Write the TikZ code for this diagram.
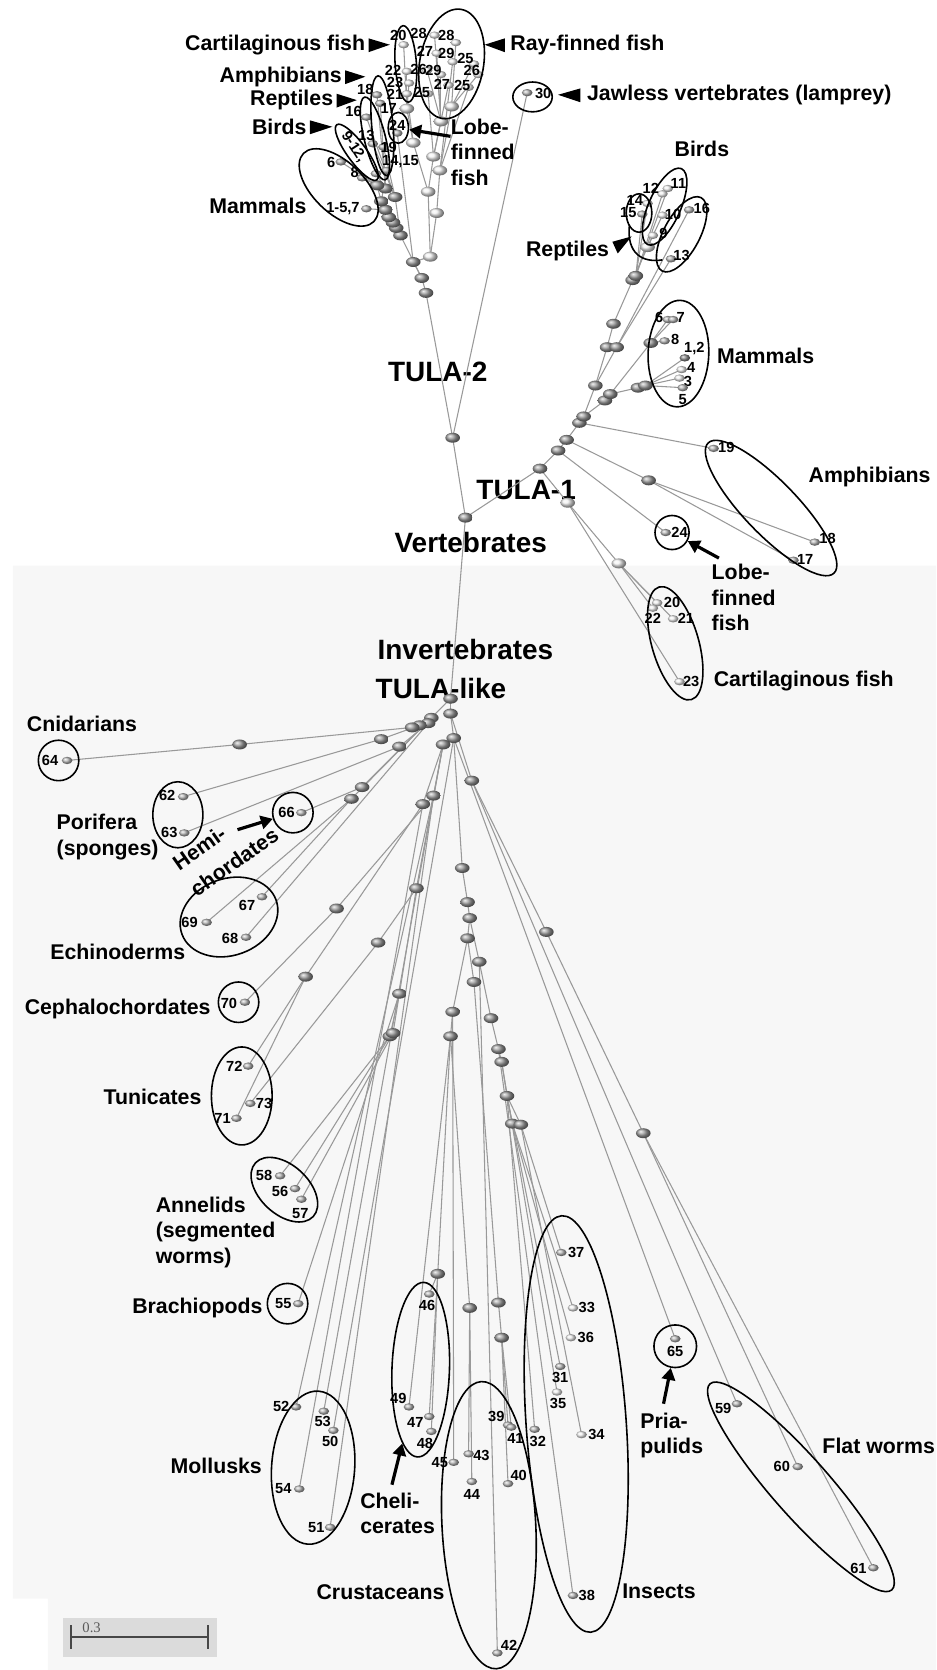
\documentclass[tikz,border=0pt]{standalone}
\usepackage{fontspec}
\setmainfont{Liberation Sans}
\newfontfamily\barfont{Liberation Serif}
\usetikzlibrary{shapes.geometric,arrows.meta}
\pgfdeclarelayer{bg}
\pgfdeclarelayer{edges}
\pgfsetlayers{bg,edges,main}

\tikzset{
  inode/.style={ellipse, inner sep=0pt, minimum width=11pt, minimum height=7.5pt, shade, ball color=gray!75},
  wnode/.style={inode, ball color=gray!12},
  lnode/.style={ellipse, inner sep=0pt, minimum width=8pt, minimum height=5.5pt, shade, ball color=gray!55},
  wleaf/.style={lnode, ball color=gray!12},
  dleaf/.style={lnode, ball color=gray!90},
  edge/.style={draw=black!40, line width=0.8pt},
  ring/.style={ellipse, draw, line width=1.2pt, inner sep=0pt},
  num/.style={font=\fontsize{11}{12}\selectfont\bfseries, inner sep=0pt},
  grp/.style={font=\fontsize{16}{19}\selectfont\bfseries, inner sep=0pt, align=left},
  big/.style={font=\fontsize{21}{24}\selectfont\bfseries, inner sep=0pt},
  ptr/.style={line width=2.4pt, -{Triangle[length=9pt,width=10pt]}},
}

\begin{document}
\begin{tikzpicture}[x=0.8pt, y=-0.8pt]
\useasboundingbox (0,0) rectangle (879,1568);

% shaded half and the big titles
\begin{pgfonlayer}{bg}
  \fill[black!3] (12,531) -- (879,531) -- (879,1568) -- (45,1568) -- (45,1501) -- (12,1501) -- cycle;
  \node[big] (lT2) at (411,349) {TULA-2};
  \node[big] (lT1) at (494,460) {TULA-1};
  \node[big] (lVert) at (442,509) {Vertebrates};
  \node[big] (lInv) at (437,610) {Invertebrates};
  \node[big] (lTlike) at (414,646) {TULA-like};
\end{pgfonlayer}

% inner nodes
\foreach \n/\x/\y in {k0/425/411, k1/400/275, k2/396/261, k3/388/246, k4/376/221, k5/372/214,
  k6/369/209, k7/365/204, k8/362/197, k9/358/189, k10/371/185, k11/362/177, k12/354/174,
  vA/437/486, q1/507/440, q2/524/423, q3/532/413, q4/544/397, p10/548/391, p5/559/362,
  p7/568/376, p6/573/370, p2/570/326, p3/579/326, p1/576/304, p11/594/263, p11b/597/259,
  p8/599/364, p9/606/362, p4/611/322, r1/609/451,
  h0/423/656, h1/423/670, a1/405/674, a2/402/679, a3/394/681, a4/387/683, b1/358/694,
  b2/375/701, c1/426/693, c2/416/699, d1/443/733, e1/340/739, e2/330/750, f1/407/747,
  f2/397/755, m64/225/699, n70/316/853, t1/287/917, t2/355/885, u1/391/834, an3/375/933,
  an1/366/973, an2/369/970, g1/434/815, g2/439/847, g3/441/862, g4/439/881, g5/450/903,
  g6/445/922, g7/461/956, g8/468/985, g9/471/997, g10/476/1029, g11/481/1055, g12/489/1056,
  g13/425/950, g14/423/973, ch1/411/1196, cr1/441/1228, cr2/468/1223, cr3/471/1256,
  fw1/513/875, fw2/604/1064}
  \node[inode] (\n) at (\x,\y) {};
\foreach \n/\x/\y in {w1/404/241, w2/410/200, w3/402/180, w4/413/160, w5/407/147, w6/388/134,
  w7/382/102, w8/424/100, w9/414/114, w10/533/472, w11/581/529, p12/608/232}
  \node[wnode] (\n) at (\x,\y) {};

% leaves of TULA-2
\foreach \n/\x/\y in {f20/379/42, f22/382/67, f23/384/78, f21/382/88, ra/408/33, rb/428/40,
  rc/410/50, rd/425/58, re/445/60, rf/401/66, rg/414/70, rh/449/70, ri/421/80, rj/440/82, rk/402/88}
  \node[wleaf] (\n) at (\x,\y) {};
\foreach \n/\x/\y in {f18/354/89, f17/357/97, f16/344/110, f13/350/135, f24/373/125, f19/360/138,
  fB/353/163, fB2/363/160, f6/320/152, f8/340/167, f157/344/196, f30/495/87}
  \node[lnode] (\n) at (\x,\y) {};
\foreach \t/\u/\v [count=\i] in {20/374/33, 28/393/31, 28/419/33, 27/399/48, 29/419/50, 25/437/55,
  22/369/66, 26/393/65, 29/407/66, 26/443/66, 23/371/77, 27/415/79, 25/434/80, 21/371/89,
  25/396/87, 18/343/84, 17/365/102, 16/332/105, 24/373/118, 13/344/127, 19/365/138,
  6/311/153, 8/333/162, 30/510/88}
  \node[num] (top\i) at (\u,\v) {\t};
\node[num] (top25) at (322,196) {1-5,7};
\node[num] (top26) at (376,152) {14,15};
\node[num, rotate=-57] (top27) at (332,138) {9-12,};

% leaves of TULA-1
\foreach \n/\x/\y/\t/\u/\v in {b11/627/177/11/637/172, b12/622/182/12/611/177, b14/608/191/14/596/188,
  b10/622/202/10/632/201, b9/613/221/9/623/219, m4/640/347/4/649/345, m3/638/355/3/646/358,
  c20/617/566/20/631/566, c22/613/571/22/613/581, c21/632/581/21/644/581, c23/638/640/23/649/640}
  {\node[wleaf] (\n) at (\x,\y) {}; \node[num] (n\n) at (\u,\v) {\t};}
\foreach \n/\x/\y/\t/\u/\v in {b15/603/201/15/590/200, b16/647/197/16/659/196, b13/630/243/13/640/240,
  m6/627/300/6/619/298, m7/632/300/7/639/298, m8/624/320/8/634/319, m5/641/364/5/641/375,
  a19/670/421/19/682/420, a18/765/509/18/777/506, a17/745/526/17/756/525, a24/625/500/24/638/500}
  {\node[lnode] (\n) at (\x,\y) {}; \node[num] (n\n) at (\u,\v) {\t};}
\node[dleaf] (m12) at (643,336) {};
\node[num] (nm12) at (652,327) {1,2};

% leaves of the invertebrates
\foreach \n/\x/\y/\t/\u/\v in {s64/63/714/64/47/714, s62/172/748/62/157/747, s63/173/782/63/159/782,
  s66/283/763/66/269/763, s67/246/842/67/232/850, s68/231/880/68/216/881, s69/194/866/69/178/866,
  s70/230/941/70/215/942, s72/233/1001/72/220/1001, s73/235/1036/73/248/1036, s71/222/1050/71/209/1050,
  s58/263/1104/58/248/1104, s56/277/1116/56/263/1119, s57/283/1126/57/282/1139, s55/280/1224/55/266/1224,
  s52/278/1321/52/264/1321, s53/304/1325/53/303/1335, s50/313/1343/50/310/1353, s54/281/1398/54/266/1398,
  s51/310/1434/51/297/1434, s46/403/1215/46/401/1226, s49/384/1321/49/374/1313, s47/403/1330/47/390/1336,
  s48/405/1344/48/399/1355, s45/426/1373/45/413/1373, s43/440/1365/43/452/1367, s44/443/1391/44/443/1403,
  s39/477/1338/39/466/1330, s41/480/1340/41/484/1351, s40/477/1393/40/487/1385, s42/467/1552/42/478/1545,
  s32/502/1342/32/505/1353, s37/527/1176/37/541/1176, s31/526/1283/31/526/1293, s38/538/1498/38/551/1498,
  s65/634/1257/65/634/1269, s59/692/1318/59/679/1322, s60/749/1377/60/734/1377, s61/820/1472/61/806/1473}
  {\node[lnode] (\n) at (\x,\y) {}; \node[num] (n\n) at (\u,\v) {\t};}
\foreach \n/\x/\y/\t/\u/\v in {s33/538/1228/33/551/1228, s36/536/1256/36/550/1256,
  s35/523/1307/35/524/1318, s34/546/1347/34/560/1347}
  {\node[wleaf] (\n) at (\x,\y) {}; \node[num] (n\n) at (\u,\v) {\t};}

% branches
\begin{pgfonlayer}{edges}
\foreach \a/\b in {k0/k1, k1/k2, k2/k3, k0/f30, k3/w1, w1/w2, w2/w4, w4/w8, w8/rb, w8/re, w8/rh,
  w4/rj, w4/rd, w1/w3, w3/w5, w5/w9, w9/ra, w9/rc, w9/rg, w5/ri, w9/rf, w5/rk, w3/w6, w6/w7,
  w7/f20, w7/f22, w7/f23, w6/f21, k3/f24, k2/k4, k4/k5, k5/k6, k6/k7, k7/k8, k8/f157, k4/k10,
  k10/k11, k11/f18, k11/f17, k10/f16, k10/f13, k11/fB, k10/f19, k5/k9, k9/k12, k12/f6, k12/f8, k9/fB2,
  k0/vA, vA/q1, q1/q2, q2/q3, q3/q4, q4/p10, p10/p5, p5/p2, p2/p1, p1/p11, p11/p11b, p11b/b15,
  p11b/b14, p11b/b12, p11b/b11, p11/p12, p12/b10, p12/b9, p5/p3, p3/b16, p3/b13, p10/p7, p7/p6,
  p6/p8, p8/p9, p9/m12, p9/m4, p9/m3, p9/m5, p6/p4, p4/m6, p4/m7, p4/m8, q4/a19, q3/r1, r1/a18,
  r1/a17, q2/a24, q1/w10, w10/w11, w11/c20, w11/c22, w11/c21, w10/c23,
  vA/h0, h0/h1, h1/c1, c1/c2, h0/a1, a1/a2, a2/a3, a3/a4, a4/m64, m64/s64, a3/b1, b1/s62, a2/b2,
  b2/s63, a1/e1, e1/s66, a1/e2, e2/s69, e2/s67, a2/s68, c2/f1, f1/n70, n70/s70, c2/f2, f2/t1,
  t1/s72, t1/s71, c2/u1, u1/t2, t2/s73, u1/an3, an3/an1, an1/s58, an1/s56, an3/an2, an2/s57,
  an3/s55, f1/s52, f2/s54, c2/s53, c1/s50, f1/s51, c1/g1, g1/g2, g2/g3, g3/g4, g4/g13, g13/g14,
  g14/ch1, ch1/s46, ch1/s47, ch1/s48, g14/s49, g14/cr1, cr1/s43, cr1/s44, g13/s45, g4/g6, g6/cr2,
  cr2/cr3, cr3/s39, cr3/s41, cr3/s40, g3/g5, g5/s42, g5/g7, g7/g8, g8/g9, g9/g10, g10/g11, g10/g12,
  g12/s37, g11/s33, g11/s36, g10/s31, g9/s35, g12/s34, g8/s38, g10/s32, h1/d1, d1/fw1, fw1/fw2,
  fw2/s60, fw2/s61, d1/s59, c1/s65}
  \draw[edge] (\a.center) -- (\b.center);
\end{pgfonlayer}

% groups, TULA-2
\node[ring, minimum width=57.6pt, minimum height=16pt, rotate=94] (eCartT) at (381,60) {};
\node[ring, minimum width=83.2pt, minimum height=48pt, rotate=80] (eRay) at (424,60) {};
\node[ring, minimum width=75.2pt, minimum height=16pt, rotate=95] (eAmphT) at (359,118) {};
\node[ring, minimum width=64pt, minimum height=16pt, rotate=104] (eReptT) at (352,130) {};
\node[ring, minimum width=51.2pt, minimum height=14.4pt, rotate=-54] (eBirdT) at (335,143) {};
\node[ring, minimum width=15.2pt, minimum height=23.2pt] (e24T) at (374,120) {};
\node[ring, minimum width=73.6pt, minimum height=38.4pt, rotate=-44] (eMamT) at (318,176) {};
\node[ring, minimum width=29.6pt, minimum height=22.4pt] (e30) at (500,91) {};

% groups, TULA-1
\node[ring, minimum width=62.4pt, minimum height=24pt, rotate=66] (eBird) at (624,194) {};
\node[ring, minimum width=19.2pt, minimum height=28.8pt] (eRep) at (600,200) {};
\draw[line width=1.2pt] (591,211) .. controls (588,238) and (603,247) .. (622,244);
\node[ring, minimum width=62.4pt, minimum height=27.2pt, rotate=62] (eRep2) at (640,220) {};
\node[ring, minimum width=80pt, minimum height=45.6pt, rotate=88] (eMam) at (637,332) {};
\node[ring, minimum width=136pt, minimum height=40pt, rotate=-46] (eAmph) at (724,477) {};
\node[ring, minimum width=25.6pt, minimum height=25.6pt] (e24) at (631,500) {};
\node[ring, minimum width=88pt, minimum height=35.2pt, rotate=-74] (eCart) at (634,604) {};

% groups, invertebrates
\node[ring, minimum width=30.4pt, minimum height=30.4pt] (e64) at (55,714) {};
\node[ring, minimum width=37.6pt, minimum height=49.6pt] (ePor) at (167,765) {};
\node[ring, minimum width=30.4pt, minimum height=30.4pt] (e66) at (275,763) {};
\node[ring, minimum width=75.2pt, minimum height=57.6pt, rotate=20] (eEch) at (215,861) {};
\node[ring, minimum width=30.4pt, minimum height=30.4pt] (e70) at (224,941) {};
\node[ring, minimum width=45.6pt, minimum height=73.6pt] (eTun) at (227,1029) {};
\node[ring, minimum width=59.2pt, minimum height=36.8pt, rotate=-43] (eAnn) at (267,1117) {};
\node[ring, minimum width=30.4pt, minimum height=30.4pt] (e55) at (270,1224) {};
\node[ring, minimum width=62.4pt, minimum height=115.2pt, rotate=-4] (eMol) at (294,1378) {};
\node[ring, minimum width=131.2pt, minimum height=43.2pt, rotate=88] (eChe) at (395,1286) {};
\node[ring, minimum width=216pt, minimum height=70.4pt, rotate=93] (eCru) at (459,1432) {};
\node[ring, minimum width=313.6pt, minimum height=75.2pt, rotate=94] (eIns) at (541,1337) {};
\node[ring, minimum width=32pt, minimum height=32pt] (e65) at (634,1264) {};
\node[ring, minimum width=206.4pt, minimum height=43.2pt, rotate=-48.6] (eFlat) at (752,1396) {};

% labels, TULA-2
\node[grp, anchor=east] (lCartT) at (343,42) {Cartilaginous fish};
\node[grp, anchor=west] (lRay) at (479,42) {Ray-finned fish};
\node[grp, anchor=east] (lAmphT) at (321,72) {Amphibians};
\node[grp, anchor=east] (lReptT) at (313,94) {Reptiles};
\node[grp, anchor=east] (lBirdT) at (288,119) {Birds};
\node[grp, anchor=east] (lMamT) at (288,193) {Mammals};
\node[grp, anchor=west] (lLobeT) at (423,143) {Lobe-\\finned\\fish};
\node[grp, anchor=west] (lJaw) at (551,89) {Jawless vertebrates (lamprey)};
\fill (346,36) -- (366,42) -- (346,49) -- cycle;
\fill (474,36) -- (455,42) -- (474,49) -- cycle;
\fill (324,66) -- (343,72) -- (324,79) -- cycle;
\fill (316,88) -- (335,94) -- (316,101) -- cycle;
\fill (291,113) -- (312,119) -- (291,126) -- cycle;
\fill (545,83) -- (524,89) -- (545,96) -- cycle;
\coordinate (cLobeT) at (423,128);
\draw[ptr] (cLobeT) -- (e24T);

% labels, TULA-1
\node[grp] (lBird) at (659,140) {Birds};
\node[grp, anchor=east] (lRep) at (572,236) {Reptiles};
\fill (575,227) -- (593,222) -- (580,238) -- cycle;
\node[grp, anchor=west] (lMam) at (673,334) {Mammals};
\node[grp, anchor=west] (lAmph) at (759,448) {Amphibians};
\node[grp, anchor=west] (lLobe) at (668,561) {Lobe-\\finned\\fish};
\node[grp, anchor=west] (lCart) at (670,639) {Cartilaginous fish};
\coordinate (cLobe) at (675,524);
\draw[ptr] (cLobe) -- (e24);

% labels, invertebrates
\node[grp, anchor=west] (lCni) at (25,680) {Cnidarians};
\node[grp, anchor=west] (lPor) at (53,786) {Porifera\\(sponges)};
\node[grp, rotate=35] (lHemi) at (187,796) {Hemi-};
\node[grp, rotate=35] (lChor) at (220,809) {chordates};
\coordinate (cHemi) at (223,779);
\draw[ptr] (cHemi) -- (e66);
\node[grp, anchor=west] (lEch) at (47,894) {Echinoderms};
\node[grp, anchor=west] (lCeph) at (23,947) {Cephalochordates};
\node[grp, anchor=west] (lTun) at (97,1030) {Tunicates};
\node[grp, anchor=west] (lAnn) at (146,1157) {Annelids\\(segmented\\worms)};
\node[grp, anchor=west] (lBra) at (124,1228) {Brachiopods};
\node[grp, anchor=west] (lMol) at (160,1376) {Mollusks};
\node[grp, anchor=west] (lChe) at (338,1421) {Cheli-\\cerates};
\coordinate (cChe) at (368,1394);
\draw[ptr] (cChe) -- (eChe);
\node[grp, anchor=west] (lCru) at (297,1495) {Crustaceans};
\node[grp, anchor=west] (lIns) at (584,1494) {Insects};
\node[grp, anchor=west] (lPri) at (601,1348) {Pria-\\pulids};
\coordinate (cPri) at (623,1318);
\draw[ptr] (cPri) -- (e65);
\node[grp, anchor=west] (lFlat) at (772,1358) {Flat worms};

% scale bar
\node[fill=black!14, minimum width=116pt, minimum height=29.6pt, inner sep=0pt] (sbox) at (131.5,1537.5) {};
\coordinate (sL) at (67,1537);
\coordinate (sR) at (195,1537);
\draw[black!72, line width=1.6pt] (sL) -- (sR);
\draw[black!72, line width=1.6pt] ([yshift=9pt]sL) -- ([yshift=-9pt]sL);
\draw[black!72, line width=1.6pt] ([yshift=9pt]sR) -- ([yshift=-9pt]sR);
\node[text=black!65, font=\barfont\fontsize{11}{12}\selectfont, inner sep=0pt] (sLab) at (86,1528) {0.3};
\end{tikzpicture}
\end{document}
